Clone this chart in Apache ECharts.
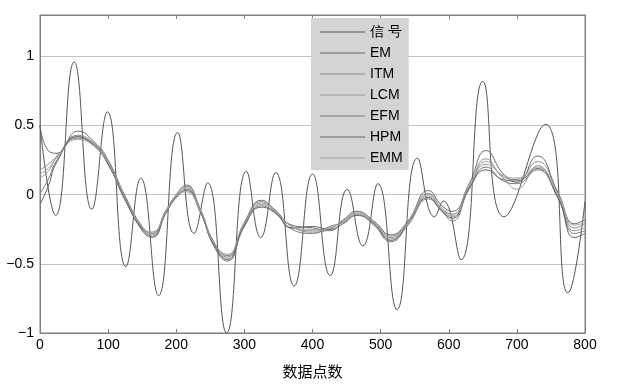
<!DOCTYPE html>
<html>
<head>
<meta charset="utf-8">
<script src="https://cdn.jsdelivr.net/npm/echarts@6/dist/echarts.min.js"></script>
<style>html,body{margin:0;padding:0;background:#fff}#c{width:622px;height:384px}</style>
</head>
<body>
<div id="c"></div>
<script>
// Signal (extrema)
const sigX = [0,23,50,76,99,126,148,174,202,226,246,274,303,324,346,373,400,426,451,474,496,524,554,579,592,618,650,681,742,775,800];
const sigY = [0.5,-0.15,0.96,-0.105,0.60,-0.52,0.12,-0.73,0.45,-0.28,0.086,-1.0,0.17,-0.31,0.16,-0.66,0.15,-0.585,0.04,-0.37,0.08,-0.83,0.265,-0.16,-0.045,-0.47,0.82,-0.16,0.51,-0.71,-0.05];

// Trend estimates by method
const trendX = [0,12,25,55,80,100,125,150,165,185,200,215,235,255,275,300,325,345,370,400,425,445,465,490,515,540,570,590,605,630,655,680,700,730,760,785,800];
const EM  = [0.50,0.32,0.30,0.46,0.38,0.25,-0.01,-0.23,-0.28,-0.12,0.00,0.07,-0.10,-0.34,-0.44,-0.20,-0.04,-0.11,-0.22,-0.24,-0.26,-0.19,-0.12,-0.19,-0.29,-0.19,0.03,-0.08,-0.12,0.08,0.32,0.15,0.09,0.28,0.02,-0.21,-0.18];
const ITM = [0.18,0.22,0.28,0.43,0.37,0.24,-0.02,-0.24,-0.27,-0.11,0.00,0.06,-0.11,-0.35,-0.45,-0.21,-0.05,-0.12,-0.23,-0.27,-0.25,-0.18,-0.12,-0.20,-0.30,-0.20,0.01,-0.10,-0.14,0.06,0.26,0.13,0.11,0.24,0.01,-0.24,-0.21];
const LCM = [0.12,0.17,0.27,0.42,0.36,0.23,-0.03,-0.25,-0.29,-0.12,-0.01,0.05,-0.11,-0.36,-0.46,-0.22,-0.06,-0.12,-0.24,-0.25,-0.24,-0.19,-0.13,-0.21,-0.32,-0.20,0.00,-0.11,-0.16,0.05,0.24,0.12,0.04,0.21,-0.01,-0.26,-0.24];
const EFM = [0.01,0.11,0.25,0.41,0.36,0.22,-0.03,-0.26,-0.31,-0.13,-0.02,0.04,-0.12,-0.37,-0.48,-0.23,-0.08,-0.13,-0.25,-0.28,-0.23,-0.20,-0.14,-0.22,-0.34,-0.22,-0.03,-0.12,-0.19,0.04,0.20,0.10,0.08,0.18,-0.02,-0.28,-0.26];
const HPM = [-0.07,0.06,0.24,0.42,0.35,0.22,-0.04,-0.25,-0.30,-0.13,-0.02,0.03,-0.12,-0.36,-0.47,-0.22,-0.09,-0.13,-0.24,-0.23,-0.25,-0.21,-0.15,-0.21,-0.33,-0.21,-0.02,-0.12,-0.17,0.05,0.18,0.11,0.10,0.19,-0.02,-0.31,-0.28];
const EMM = [0.15,0.19,0.27,0.40,0.35,0.23,-0.02,-0.24,-0.28,-0.12,-0.01,0.02,-0.11,-0.35,-0.43,-0.21,-0.07,-0.12,-0.23,-0.26,-0.24,-0.19,-0.14,-0.20,-0.31,-0.21,-0.01,-0.11,-0.15,0.06,0.22,0.14,0.12,0.20,0.00,-0.22,-0.20];

const names = ['信 号','EM','ITM','LCM','EFM','HPM','EMM'];
const trends = [EM, ITM, LCM, EFM, HPM, EMM];
const colors = ['#555555','#6a6a6a','#8a8a8a','#9a9a9a','#7a7a7a','#626262','#a0a0a0'];
const xTicks = [0,100,200,300,400,500,600,700,800];
const yTicks = [-1,-0.5,0,0.5,1];

const pair = (xs, ys) => xs.map((x, i) => [x, ys[i]]);
const font = '"Liberation Sans", Arial, Helvetica, sans-serif';

const series = [{
  name: names[0], type: 'line', smooth: true, symbol: 'none',
  data: pair(sigX, sigY),
  lineStyle: { color: colors[0], width: 1 }, itemStyle: { color: colors[0] }
}];
trends.forEach((t, i) => series.push({
  name: names[i + 1], type: 'line', smooth: true, symbol: 'none',
  data: pair(trendX, t),
  lineStyle: { color: colors[i + 1], width: 1 }, itemStyle: { color: colors[i + 1] }
}));

const chart = echarts.init(document.getElementById('c'), null, { renderer: 'canvas' });
chart.setOption({
  animation: false,
  backgroundColor: '#fff',
  grid: { left: 40, right: 37, top: 15, bottom: 47, containLabel: false,
          show: true, borderColor: '#808080', borderWidth: 1 },
  legend: {
    orient: 'vertical', left: 311, top: 18,
    backgroundColor: '#d4d4d4', borderWidth: 0,
    padding: [7, 6, 5, 9], itemGap: 7,
    itemWidth: 45, itemHeight: 1, icon: 'rect',
    data: names,
    textStyle: { fontFamily: font, fontSize: 14, color: '#000', lineHeight: 14 }
  },
  xAxis: [{
    type: 'value', min: 0, max: 800, interval: 100,
    position: 'bottom',
    name: '数据点数', nameLocation: 'middle', nameGap: 31,
    nameTextStyle: { fontFamily: '"Noto Sans CJK SC", sans-serif', fontSize: 15, color: '#000' },
    axisLine: { show: true, onZero: false, lineStyle: { color: '#808080' } },
    axisTick: { show: true, inside: true, length: 4, lineStyle: { color: '#808080' } },
    axisLabel: { fontFamily: font, fontSize: 14, color: '#000', margin: 5,
      formatter: v => xTicks.includes(v) ? String(v) : '' },
    splitLine: { show: false }
  }, {
    type: 'value', min: 0, max: 800, interval: 100, position: 'top',
    axisLine: { show: true, onZero: false, lineStyle: { color: '#808080' } },
    axisTick: { show: true, inside: true, length: 4, lineStyle: { color: '#808080' } },
    axisLabel: { show: false }, splitLine: { show: false }
  }],
  yAxis: [{
    type: 'value', min: -1, max: 1.3, interval: 0.5,
    axisLine: { show: true, onZero: false, lineStyle: { color: '#808080' } },
    axisTick: { show: false },
    axisLabel: { fontFamily: font, fontSize: 14, color: '#000', margin: 6, showMaxLabel: false,
      formatter: v => yTicks.some(t => Math.abs(t - v) < 1e-9) ? String(v).replace('-', '\u2212') : '' },
    splitLine: { show: true, lineStyle: { color: '#c4c4c4', width: 1 } }
  }, {
    type: 'value', min: -1, max: 1.3, interval: 0.5, position: 'right',
    axisLine: { show: true, onZero: false, lineStyle: { color: '#808080' } },
    axisTick: { show: false }, axisLabel: { show: false }, splitLine: { show: false }
  }],
  series: series
});
</script>
</body>
</html>
